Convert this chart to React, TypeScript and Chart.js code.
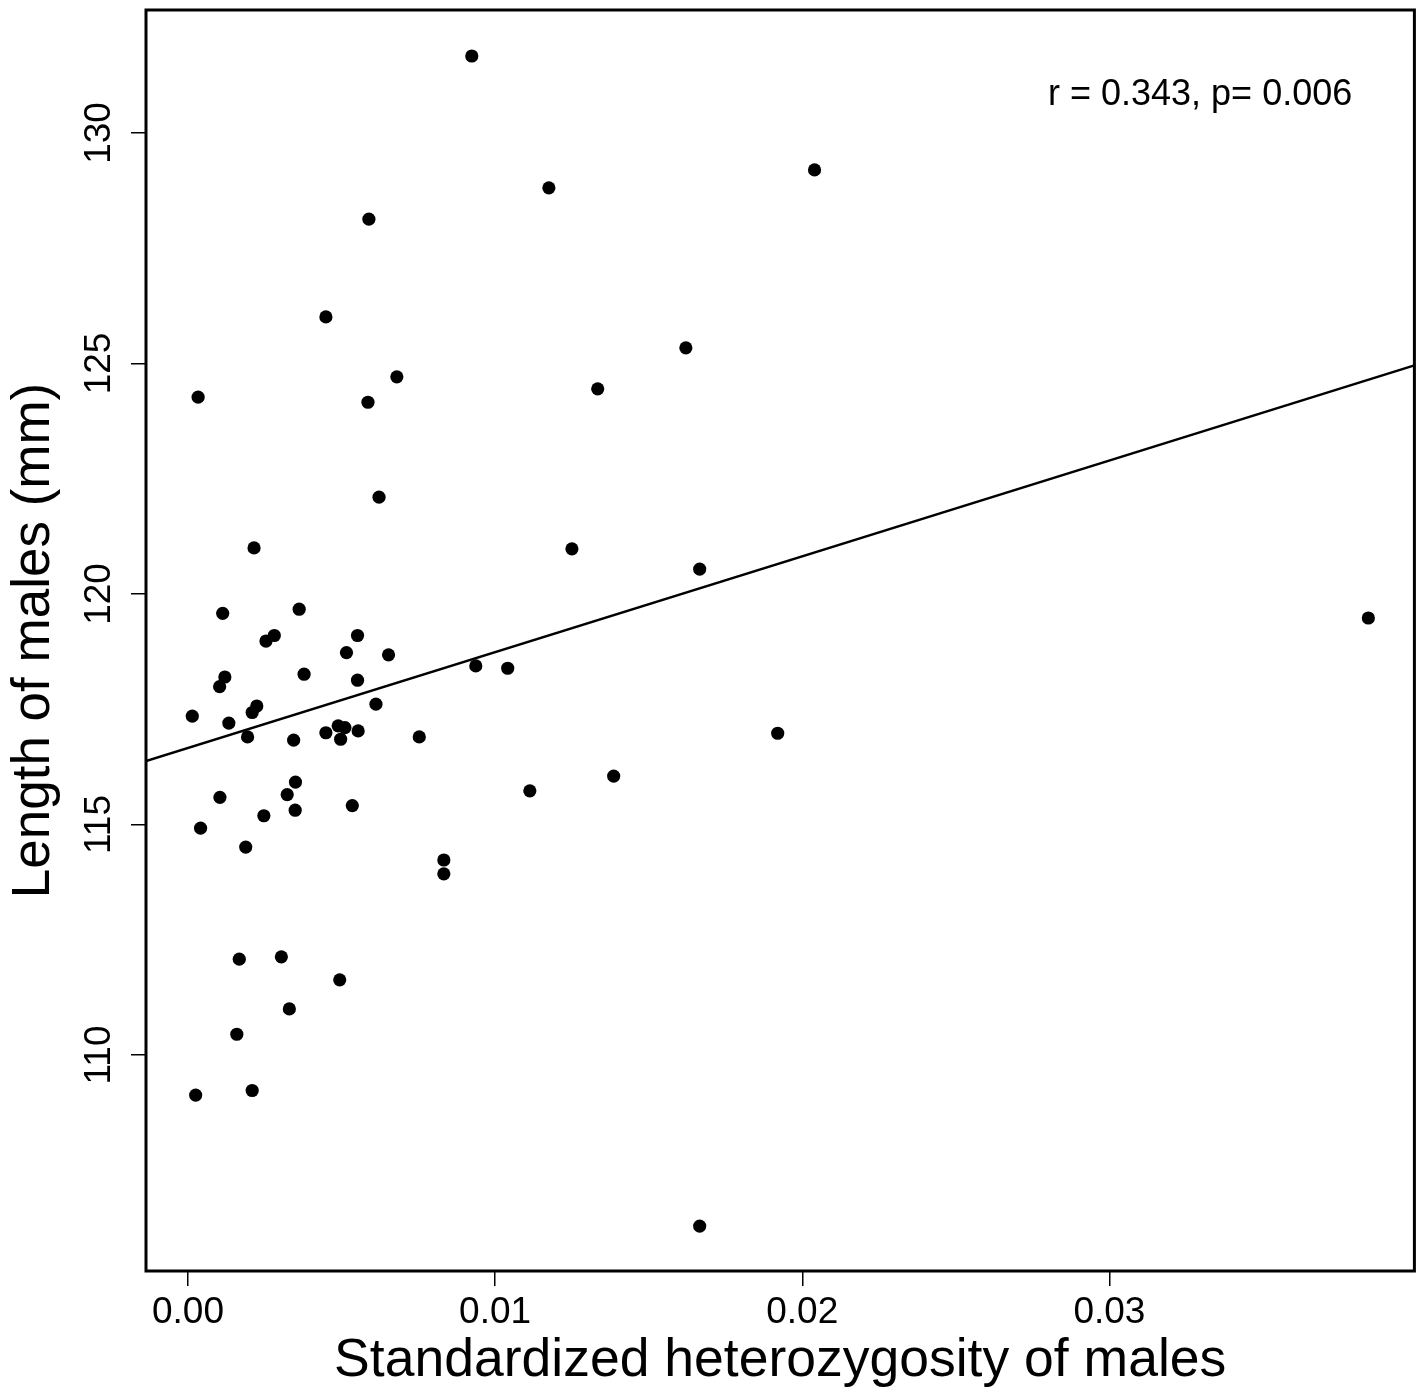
import React, { useEffect, useRef } from "react";
import { Chart, registerables } from "chart.js";

Chart.register(...registerables);

// Standardized heterozygosity (x) and length (y) of each male
const heterozygosity = [
  0.00924, 0.01175, 0.0204, 0.00589, 0.00449, 0.01621, 0.0068, 0.01334, 0.00033, 0.00586,
  0.00622, 0.00215, 0.0125, 0.01666, 0.00113, 0.00362, 0.00254, 0.00281, 0.00552, 0.00516,
  0.00653, 0.00378, 0.0012, 0.00103, 0.00552, 0.00612, 0.00014, 0.00133, 0.00224, 0.00209,
  0.00194, 0.00344, 0.00449, 0.00489, 0.00511, 0.00497, 0.00554, 0.00753, 0.00937, 0.01041,
  0.03843, 0.0192, 0.01386, 0.01113, 0.0035, 0.00104, 0.00323, 0.00349, 0.00535, 0.00247,
  0.00041, 0.00188, 0.00833, 0.00833, 0.00167, 0.00304, 0.00494, 0.0033, 0.00159, 0.00025,
  0.00209, 0.01666,
];
const maleLength = [
  131.67, 128.81, 129.2, 128.13, 126.01, 125.34, 124.71, 124.45, 124.27, 124.16,
  122.1, 121.0, 120.98, 120.54, 119.58, 119.67, 118.98, 119.1, 119.1, 118.73,
  118.68, 118.26, 118.2, 117.99, 118.13, 117.61, 117.35, 117.2, 117.57, 117.43,
  116.9, 116.83, 116.99, 117.14, 117.1, 116.85, 117.03, 116.9, 118.44, 118.39,
  119.48, 116.98, 116.05, 115.73, 115.92, 115.59, 115.65, 115.31, 115.41, 115.19,
  114.92, 114.51, 114.23, 113.93, 112.08, 112.13, 111.63, 111.0, 110.45, 109.13,
  109.23, 106.29,
];

const xTicks = [0, 0.01, 0.02, 0.03];
const yTicks = [110, 115, 120, 125, 130];

const X_MIN = -0.001367;
const X_MAX = 0.03993;
const Y_MIN = 105.315;
const Y_MAX = 132.668;

// Least-squares fit line: length = intercept + slope * heterozygosity
const FIT_INTERCEPT = 116.661;
const FIT_SLOPE = 207.8;

const xTitle = "Standardized heterozygosity of males";
const yTitle = "Length of males (mm)";
const annotation = "r = 0.343, p= 0.006";
const ANNOT_X = 0.028;
const ANNOT_Y = 130.6;

const FONT = '"Liberation Sans", Arial, Helvetica, sans-serif';

const decorPlugin = {
  id: "decor",
  afterDatasetsDraw(chart: any) {
    const { ctx, chartArea: a, scales } = chart;
    const x = scales.x;
    const y = scales.y;
    ctx.save();
    // plot box
    ctx.strokeStyle = "#000";
    ctx.lineWidth = 3;
    ctx.strokeRect(a.left, a.top, a.right - a.left, a.bottom - a.top);
    // rotated y tick labels
    ctx.fillStyle = "#000";
    ctx.font = `37px ${FONT}`;
    ctx.textAlign = "center";
    ctx.textBaseline = "alphabetic";
    for (const t of y.ticks) {
      const py = y.getPixelForValue(t.value);
      ctx.save();
      ctx.translate(a.left - 36, py);
      ctx.rotate(-Math.PI / 2);
      ctx.fillText(String(t.label), 0, 0);
      ctx.restore();
    }
    // statistics annotation
    ctx.textAlign = "left";
    ctx.font = `36px ${FONT}`;
    ctx.fillText(annotation, x.getPixelForValue(ANNOT_X), y.getPixelForValue(ANNOT_Y));
    ctx.restore();
  },
};

export default function App() {
  const canvasRef = useRef<HTMLCanvasElement | null>(null);

  useEffect(() => {
    const canvas = canvasRef.current;
    if (!canvas) return;
    const points = heterozygosity.map((h, i) => ({ x: h, y: maleLength[i] }));
    const fit = [
      { x: X_MIN, y: FIT_INTERCEPT + FIT_SLOPE * X_MIN },
      { x: X_MAX, y: FIT_INTERCEPT + FIT_SLOPE * X_MAX },
    ];
    const chart = new Chart(canvas, {
      type: "scatter",
      data: {
        datasets: [
          {
            label: "males",
            data: points,
            pointRadius: 6.6,
            pointBackgroundColor: "#000",
            pointBorderWidth: 0,
            pointBorderColor: "#000",
            showLine: false,
          },
          {
            label: "fit",
            data: fit,
            showLine: true,
            borderColor: "#000",
            borderWidth: 2.5,
            pointRadius: 0,
            fill: false,
          },
        ],
      },
      options: {
        responsive: false,
        animation: false,
        events: [],
        layout: { padding: { top: 10, right: 6, left: 0, bottom: 0 } },
        plugins: { legend: { display: false }, tooltip: { enabled: false } },
        scales: {
          x: {
            type: "linear",
            min: X_MIN,
            max: X_MAX,
            afterBuildTicks: (scale: any) => {
              scale.ticks = xTicks.map((v) => ({ value: v }));
            },
            afterFit: (scale: any) => {
              scale.height = 122;
            },
            grid: {
              display: true,
              drawOnChartArea: false,
              drawTicks: true,
              tickLength: 15,
              color: "#000",
              lineWidth: 1.5,
            },
            border: { display: false },
            ticks: {
              color: "#000",
              font: { family: FONT, size: 37 },
              padding: 5,
              maxRotation: 0,
              minRotation: 0,
              autoSkip: false,
              callback: (v: any) => Number(v).toFixed(2),
            },
            title: {
              display: true,
              text: xTitle,
              color: "#000",
              font: { family: FONT, size: 53.5 },
              padding: { top: 0, bottom: 0 },
            },
          },
          y: {
            type: "linear",
            min: Y_MIN,
            max: Y_MAX,
            afterBuildTicks: (scale: any) => {
              scale.ticks = yTicks.map((v) => ({ value: v }));
            },
            afterFit: (scale: any) => {
              scale.width = 146;
            },
            grid: {
              display: true,
              drawOnChartArea: false,
              drawTicks: true,
              tickLength: 15,
              color: "#000",
              lineWidth: 1.5,
            },
            border: { display: false },
            ticks: {
              display: false,
              callback: (v: any) => Number(v).toFixed(0),
            },
            title: {
              display: true,
              text: yTitle,
              color: "#000",
              font: { family: FONT, size: 53 },
              padding: { top: 2.4, bottom: 0 },
            },
          },
        },
      },
      plugins: [decorPlugin],
    });
    return () => chart.destroy();
  }, []);

  return (
    <div style={{ position: "fixed", left: 0, top: 0, width: 1421, height: 1393, background: "#fff" }}>
      <canvas ref={canvasRef} width={1421} height={1393} style={{ display: "block" }} />
    </div>
  );
}
